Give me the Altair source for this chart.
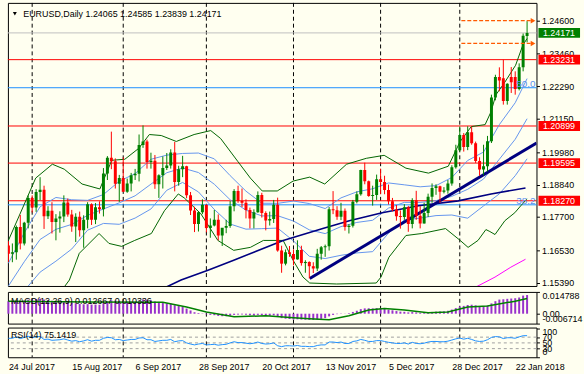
import json
import altair as alt
import pandas as pd

# ---------------- data ----------------
opens = [1.1670,1.1641,1.1646,1.1735,1.1677,1.1750,1.1837,1.1803,1.1858,1.1866,
         1.1773,1.1792,1.1752,1.1765,1.1772,1.1821,1.1779,1.1737,1.1771,1.1723,
         1.1760,1.1815,1.1760,1.1804,1.1797,1.1923,1.1978,1.1966,1.1887,1.1907,
         1.1859,1.1888,1.1917,1.1922,1.2023,1.2035,1.1963,1.1968,1.1885,1.1917,
         1.1942,1.1951,1.1997,1.1893,1.1938,1.1948,1.1846,1.1793,1.1745,1.1787,
         1.1813,1.1731,1.1740,1.1760,1.1705,1.1732,1.1738,1.1808,1.1861,1.1826,
         1.1820,1.1795,1.1765,1.1787,1.1847,1.1784,1.1758,1.1763,1.1813,1.1652,
         1.1606,1.1646,1.1640,1.1621,1.1654,1.1608,1.1612,1.1597,1.1589,1.1641,
         1.1664,1.1667,1.1797,1.1794,1.1771,1.1792,1.1735,1.1739,1.1824,1.1850,
         1.1935,1.1896,1.1844,1.1847,1.1903,1.1893,1.1865,1.1825,1.1796,1.1773,
         1.1770,1.1804,1.1745,1.1829,1.1774,1.1747,1.1784,1.1841,1.1872,1.1878,
         1.1859,1.1863,1.1888,1.1945,1.2005,1.2058,1.2016,1.2068,1.2029,1.1967,
         1.1937,1.1948,1.2036,1.2190,1.2262,1.2258,1.2178,1.2262,1.2262,1.2220,
         1.2296,1.24065]
highs = [1.1685,1.1677,1.1740,1.1777,1.1753,1.1846,1.1846,1.1868,1.1910,1.1880,
         1.1808,1.1822,1.1780,1.1790,1.1846,1.1835,1.1795,1.1783,1.1789,1.1776,
         1.1822,1.1818,1.1819,1.1825,1.1942,1.1984,1.2070,1.1976,1.1918,1.1980,
         1.1905,1.1925,1.1939,1.2060,1.2092,1.2042,1.1996,1.1988,1.1920,1.1983,
         1.1995,1.2008,1.2034,1.1950,1.1985,1.1950,1.1858,1.1806,1.1790,1.1832,
         1.1813,1.1765,1.1795,1.1779,1.1730,1.1760,1.1826,1.1868,1.1880,1.1870,
         1.1832,1.1803,1.1797,1.1860,1.1855,1.1790,1.1789,1.1830,1.1838,1.1669,
         1.1656,1.1668,1.1656,1.1688,1.1669,1.1618,1.1614,1.1611,1.1658,1.1668,
         1.1673,1.1805,1.1861,1.1808,1.1820,1.1800,1.1745,1.1830,1.1860,1.1936,
         1.1961,1.1898,1.1880,1.1919,1.1940,1.1915,1.1884,1.1837,1.1812,1.1793,
         1.1815,1.1809,1.1836,1.1862,1.1808,1.1820,1.1852,1.1888,1.1885,1.1880,
         1.1875,1.1900,1.1952,1.2024,1.2088,1.2065,1.2089,1.2088,1.2035,1.1980,
         1.2024,1.2055,1.2200,1.2270,1.2296,1.2323,1.2240,1.2297,1.2282,1.2310,
         1.2415,1.24585]
lows = [1.1612,1.1611,1.1620,1.1656,1.1670,1.1730,1.1786,1.1788,1.1829,1.1728,
        1.1763,1.1712,1.1688,1.1715,1.1752,1.1771,1.1718,1.1682,1.1701,1.1662,
        1.1730,1.1742,1.1745,1.1782,1.1772,1.1900,1.1938,1.1870,1.1823,1.1858,
        1.1855,1.1860,1.1900,1.1895,1.2013,1.1940,1.1940,1.1869,1.1837,1.1870,
        1.1935,1.1940,1.1860,1.1880,1.1910,1.1836,1.1777,1.1717,1.1719,1.1780,
        1.1716,1.1697,1.1737,1.1688,1.1668,1.1713,1.1732,1.1790,1.1820,1.1805,
        1.1765,1.1730,1.1730,1.1785,1.1768,1.1723,1.1740,1.1749,1.1648,1.1574,
        1.1600,1.1630,1.1600,1.1620,1.1599,1.1574,1.1554,1.1573,1.1580,1.1620,
        1.1630,1.1652,1.1780,1.1760,1.1759,1.1722,1.1712,1.1733,1.1818,1.1845,
        1.1885,1.1841,1.1810,1.1830,1.1850,1.1850,1.1814,1.1790,1.1757,1.1729,
        1.1760,1.1718,1.1730,1.1760,1.1730,1.1747,1.1770,1.1820,1.1848,1.1820,
        1.1853,1.1852,1.1880,1.1940,1.2001,1.2000,1.2005,1.2024,1.1960,1.1915,
        1.1917,1.1930,1.2030,1.2180,1.2212,1.2165,1.2165,1.2206,1.2200,1.2215,
        1.2282,1.23839]
closes = [1.1641,1.1646,1.1735,1.1677,1.1750,1.1837,1.1803,1.1858,1.1866,1.1773,
          1.1792,1.1752,1.1765,1.1772,1.1821,1.1779,1.1737,1.1771,1.1723,1.1760,
          1.1815,1.1760,1.1804,1.1797,1.1923,1.1978,1.1966,1.1887,1.1907,1.1859,
          1.1888,1.1917,1.1922,1.2023,1.2035,1.1963,1.1968,1.1885,1.1917,1.1942,
          1.1951,1.1997,1.1893,1.1938,1.1948,1.1846,1.1793,1.1745,1.1787,1.1813,
          1.1731,1.1740,1.1760,1.1705,1.1732,1.1738,1.1808,1.1861,1.1826,1.1820,
          1.1795,1.1765,1.1787,1.1847,1.1784,1.1758,1.1763,1.1813,1.1652,1.1606,
          1.1646,1.1640,1.1621,1.1654,1.1608,1.1612,1.1597,1.1589,1.1641,1.1664,
          1.1667,1.1797,1.1794,1.1771,1.1792,1.1735,1.1739,1.1824,1.1850,1.1935,
          1.1896,1.1844,1.1847,1.1903,1.1893,1.1865,1.1825,1.1796,1.1773,1.1770,
          1.1804,1.1745,1.1829,1.1774,1.1747,1.1784,1.1841,1.1872,1.1878,1.1859,
          1.1863,1.1888,1.1945,1.2005,1.2058,1.2016,1.2068,1.2029,1.1967,1.1937,
          1.1948,1.2036,1.2190,1.2262,1.2250,1.2178,1.2238,1.2244,1.2220,1.2296,
          1.2407,1.24171]

macd_hist = [0.0085,0.0084,0.0088,0.0086,0.0088,0.0095,0.0096,0.0100,0.0102,0.0096,
             0.0093,0.0088,0.0085,0.0082,0.0083,0.0080,0.0074,0.0071,0.0066,0.0064,
             0.0065,0.0062,0.0062,0.0061,0.0071,0.0083,0.0091,0.0089,0.0088,0.0084,
             0.0082,0.0082,0.0081,0.0089,0.0096,0.0094,0.0091,0.0083,0.0080,0.0078,
             0.0070,0.0068,0.0058,0.0052,0.0047,0.0035,0.0022,0.0010,0.0005,0.0002,
             -0.0004,-0.0008,-0.0010,-0.0015,-0.0017,-0.0017,-0.0013,-0.0008,-0.0006,-0.0005,
             -0.0007,-0.0010,-0.0011,-0.0008,-0.0010,-0.0013,-0.0014,-0.0011,-0.0020,-0.0030,
             -0.0034,-0.0036,-0.0039,-0.0038,-0.0040,-0.0041,-0.0042,-0.0042,-0.0039,-0.0035,
             -0.0030,-0.0018,-0.0008,-0.0003,0.0001,0.0001,0.0004,0.0012,0.0020,0.0031,
             0.0036,0.0037,0.0036,0.0038,0.0037,0.0033,0.0028,0.0023,0.0018,0.0014,
             0.0013,0.0009,0.0011,0.0009,0.0006,0.0006,0.0009,0.0012,0.0014,0.0015,
             0.0016,0.0020,0.0028,0.0038,0.0048,0.0053,0.0059,0.0061,0.0057,0.0052,
             0.0050,0.0055,0.0070,0.0085,0.0096,0.0098,0.0101,0.0103,0.0105,0.0110,
             0.0123,0.012667]
signal_bars = [0, 20, 39, 45, 50, 57, 65, 72, 76, 81, 86, 91, 95, 100, 106, 111, 116, 121, 128, 131]
signal_vals = [0.0084, 0.0080, 0.0078, 0.0045, 0.0012, -0.0021, -0.0014, -0.0028, -0.0034, -0.0041,
               -0.0014, 0.0025, 0.0036, 0.0025, 0.0006, 0.0012, 0.0045, 0.0052, 0.0085, 0.010336]

rsi = [66,66,71,65,69,73,69,71,72,62, 63,59,60,61,64,60,56,58,54,57,
       61,56,59,59,66,69,68,61,62,58, 60,62,62,67,68,61,61,55,57,59,
       59,62,54,57,58,50,46,43,46,48, 43,44,45,42,44,45,50,54,51,51,
       49,47,49,53,48,46,47,50,40,37, 40,40,39,41,38,38,37,37,41,43,
       43,53,53,51,53,48,48,55,57,62, 59,55,55,58,58,55,52,50,48,48,
       50,46,52,48,47,49,53,55,55,54, 54,56,60,64,67,63,66,62,57,55,
       56,61,69,72,71,65,68,68,66,71, 75,75.1419]

date_labels = ["24 Jul 2017", "15 Aug 2017", "6 Sep 2017", "28 Sep 2017", "20 Oct 2017",
               "13 Nov 2017", "5 Dec 2017", "28 Dec 2017", "22 Jan 2018"]
date_label_bars = [0, 16, 32, 48, 64, 80, 96, 112, 128]
separator_bars = [6, 29, 50, 72, 94, 114]

price_ticks = [1.24600, 1.23460, 1.22290, 1.21150, 1.19980, 1.18840, 1.17700, 1.16530, 1.15390]
red_levels = [1.23231, 1.20899, 1.19595, 1.18270]
red_texts = ["1.23231", "1.20899", "1.19595", "1.18270"]
fib_levels = [1.22244, 1.18128]
fib_texts = ["50.0", "38.2"]
last_price = 1.24171
arrow_levels = [1.24600, 1.23800]
arrow_start_bar = 114.4
arrow_end_bar = 131.9
arrow_head_bar = 132.5

# outer bands (dark green)
ub_bars = [0, 6.9, 11.1, 14.1, 18.6, 23.1, 26.1, 29.4, 32.9, 35.6, 38.6, 42.4, 46.9, 51.1, 53.6, 57.9,
           61.1, 64.1, 67.9, 71.9, 76.1, 79.9, 85.4, 90.4, 94.9, 100.4, 106.1, 111.1, 114.1, 116.9,
           120.4, 121.9, 123.1, 125.4, 128.1, 129.9, 131]
ub_prices = [1.16876, 1.19068, 1.19555, 1.19381, 1.18859, 1.18685, 1.19694, 1.19729, 1.20111, 1.20599,
             1.20564, 1.20355, 1.20599, 1.20738, 1.20459, 1.19659, 1.19068, 1.18615, 1.18615, 1.18963,
             1.19102, 1.18859, 1.19555, 1.19763, 1.19868, 1.19416, 1.19242, 1.19485, 1.20355, 1.20877,
             1.20947, 1.21399, 1.21990, 1.22443, 1.23034, 1.23730, 1.23974]
lb_bars = [0, 8, 14.1, 15.4, 17.9, 22.9, 25.4, 28.6, 31.9, 36.1, 39.4, 42.9, 44.4, 48.6, 52.9, 56.9, 61.1,
           64.4, 69.4, 71.9, 74.4, 76.1, 82.9, 92.9, 94.1, 96.1, 100.4, 104.4, 110.4, 114.1, 116.1,
           118.6, 120.6, 121.6, 122.9, 125.4, 127.9, 129.4, 131]
lb_prices = [1.13674, 1.14614, 1.15240, 1.15484, 1.16423, 1.17119, 1.16771, 1.16667, 1.16876, 1.17119,
             1.17919, 1.18511, 1.18372, 1.17815, 1.16876, 1.16528, 1.16632, 1.16876, 1.16876, 1.16180,
             1.15588, 1.15379, 1.15345, 1.15379, 1.15588, 1.16284, 1.17049, 1.17119, 1.17293, 1.16876,
             1.16632, 1.16876, 1.17258, 1.17189, 1.17084, 1.17571, 1.17850, 1.18093, 1.18337]
# inner bands and middle line (cornflower blue)
band_bars = [0, 4, 8, 12, 16, 20, 24, 28, 32, 36, 40, 44, 48, 52, 56, 60, 64, 68, 72, 76, 80, 84,
             88, 92, 96, 100, 104, 108, 112, 116, 120, 124, 128, 131]
bu_prices = [1.16075, 1.17145, 1.18059, 1.18386, 1.18306, 1.18285, 1.18490, 1.18956, 1.19224, 1.19729,
             1.19875, 1.19934, 1.19948, 1.19743, 1.19155, 1.18608, 1.18184, 1.18180, 1.18260, 1.18173,
             1.17996, 1.18372, 1.18584, 1.18692, 1.18897, 1.18831, 1.18761, 1.18803, 1.19089, 1.19687,
             1.19983, 1.20947, 1.21716, 1.22565]
mid_prices = [1.15275, 1.16127, 1.16910, 1.17267, 1.17441, 1.17759, 1.17982, 1.18198, 1.18445, 1.18855,
              1.19256, 1.19423, 1.19262, 1.18852, 1.18306, 1.17940, 1.17738, 1.17745, 1.17558, 1.17248,
              1.17116, 1.17363, 1.17509, 1.17585, 1.18013, 1.18215, 1.18212, 1.18274, 1.18427, 1.18674,
              1.19036, 1.19732, 1.20432, 1.21155]
bl_prices = [1.14475, 1.15110, 1.15762, 1.16148, 1.16576, 1.17237, 1.17474, 1.17443, 1.17662, 1.17982,
             1.18640, 1.18915, 1.18581, 1.17965, 1.17453, 1.17272, 1.17290, 1.17310, 1.16858, 1.16319,
             1.16239, 1.16354, 1.16437, 1.16482, 1.17133, 1.17596, 1.17662, 1.17749, 1.17770, 1.17658,
             1.18090, 1.18514, 1.19151, 1.19746]
ma_bars = [39.9, 43.6, 50.4, 56.9, 69.4, 79.4, 86.1, 94.4, 103.6, 113.6, 121.9, 130.6]
ma_prices = [1.15240, 1.15484, 1.15832, 1.16180, 1.16876, 1.17293, 1.17571, 1.17850, 1.18093, 1.18267,
             1.18511, 1.18720]
ma200_bars = [118.1, 122.9, 126.9, 130.6]
ma200_prices = [1.15240, 1.15588, 1.15936, 1.16215]
trend_bars = [76.1, 133.4]
trend_prices = [1.1554, 1.2030]

# ---------------- layout constants ----------------
W = 534
H_MAIN, H_MACD, H_RSI = 286, 32, 30
FONT = "Liberation Sans"
BG = "#FFFFF0"
X_DOM = [-0.125, 133.375]
P_DOM = [1.15275, 1.25226]
MACD_DOM = [-0.006714, 0.014788]
RSI_DOM = [0, 103.4]

xs = alt.Scale(domain=X_DOM, nice=False, zero=False)
ys = alt.Scale(domain=P_DOM, nice=False, zero=False)
ms = alt.Scale(domain=MACD_DOM, nice=False, zero=False)
rs = alt.Scale(domain=RSI_DOM, nice=False, zero=False)

main_axis = alt.Axis(orient="right", values=price_ticks, format=".5f", title=None,
                     labelFont=FONT, labelFontSize=9, labelColor="black", tickSize=3,
                     tickColor="black", labelPadding=2, domain=False, grid=False,
                     labelOverlap=False, labelBound=False, labelFlush=False)

n = len(closes)
cdf = pd.DataFrame({"i": list(range(n)), "o": opens, "h": highs, "l": lows, "c": closes})
cdf["dir"] = ["up" if c >= o else "down" for o, c in zip(cdf.o, cdf.c)]
cdf["lo"] = cdf[["o", "c"]].min(axis=1)
cdf["hi"] = cdf[["o", "c"]].max(axis=1)
minb = 0.00035
cdf["hi"] = [max(h, l + minb) for h, l in zip(cdf.hi, cdf.lo)]
cdf["x0"] = cdf.i - 0.375
cdf["x1"] = cdf.i + 0.375

col_scale = alt.Scale(domain=["up", "down"], range=["#008000", "#FF0000"])

sep_df = pd.DataFrame({"i": separator_bars})

def sep_layer(axis=None):
    return alt.Chart(sep_df).mark_rule(color="black", strokeDash=[4, 3], strokeWidth=1).encode(
        x=alt.X("i:Q", scale=xs, axis=axis))

lvl_df = pd.DataFrame({"p": red_levels, "t": red_texts})
fib_df = pd.DataFrame({"p": fib_levels, "t": fib_texts})
last_df = pd.DataFrame({"p": [last_price], "t": [f"{last_price:.5f}"]})

red_lines = alt.Chart(lvl_df).mark_rule(color="#FF0000", strokeWidth=1).encode(
    y=alt.Y("p:Q", scale=ys, axis=main_axis))
fib_lines = alt.Chart(fib_df).mark_rule(color="#1E90FF", strokeWidth=1).encode(
    y=alt.Y("p:Q", scale=ys, axis=main_axis))
last_line = alt.Chart(last_df).mark_rule(color="#C0C0C0", strokeWidth=1).encode(
    y=alt.Y("p:Q", scale=ys, axis=main_axis))

def line_layer(bars, prices, color, width):
    df = pd.DataFrame({"i": bars, "p": prices})
    return alt.Chart(df).mark_line(color=color, strokeWidth=width, clip=True).encode(
        x=alt.X("i:Q", scale=xs, axis=None), y=alt.Y("p:Q", scale=ys, axis=main_axis))

ub = line_layer(ub_bars, ub_prices, "#006400", 1)
lb = line_layer(lb_bars, lb_prices, "#006400", 1)
bu = line_layer(band_bars, bu_prices, "#6495ED", 1)
mid = line_layer(band_bars, mid_prices, "#6495ED", 1)
bl = line_layer(band_bars, bl_prices, "#6495ED", 1)
ma = line_layer(ma_bars, ma_prices, "#000080", 1.6)
ma200 = line_layer(ma200_bars, ma200_prices, "#FF00FF", 1)
trend = line_layer(trend_bars, trend_prices, "#000080", 3)

wicks = alt.Chart(cdf).mark_rule(strokeWidth=1, clip=True).encode(
    x=alt.X("i:Q", scale=xs, axis=None),
    y=alt.Y("l:Q", scale=ys, axis=main_axis), y2="h:Q",
    color=alt.Color("dir:N", scale=col_scale, legend=None))
bodies = alt.Chart(cdf).mark_rect(clip=True).encode(
    x=alt.X("x0:Q", scale=xs, axis=None), x2="x1:Q",
    y=alt.Y("lo:Q", scale=ys, axis=main_axis), y2="hi:Q",
    color=alt.Color("dir:N", scale=col_scale, legend=None))

arr_df = pd.DataFrame({"p": arrow_levels, "x0": arrow_start_bar, "x1": arrow_end_bar, "xa": arrow_head_bar})
arr_lines = alt.Chart(arr_df).mark_rule(color="#FF5A00", strokeDash=[4, 2], strokeWidth=1.2).encode(
    x=alt.X("x0:Q", scale=xs, axis=None), x2="x1:Q", y=alt.Y("p:Q", scale=ys, axis=main_axis))
arr_heads = alt.Chart(arr_df).mark_point(shape="triangle-right", filled=True, size=30, opacity=1,
                                          color="#FF5A00").encode(
    x=alt.X("xa:Q", scale=xs, axis=None), y=alt.Y("p:Q", scale=ys, axis=main_axis))

fib_text = alt.Chart(fib_df).mark_text(align="right", baseline="bottom", font=FONT, fontSize=10,
                                       color="#5B8FEF", dy=1).encode(
    x=alt.value(533), y=alt.Y("p:Q", scale=ys, axis=main_axis), text="t:N")

title_df = pd.DataFrame({"t": ["EURUSD,Daily  1.24065 1.24585 1.23839 1.24171"]})
title_txt = alt.Chart(title_df).mark_text(align="left", baseline="middle", font=FONT, fontSize=9,
                                          color="black").encode(
    x=alt.value(15.5), y=alt.value(11), text="t:N")
title_tri = alt.Chart(title_df).mark_point(shape="triangle-down", filled=True, size=16, opacity=1,
                                           color="black").encode(x=alt.value(7), y=alt.value(11))

box_df = pd.concat([last_df.assign(k="last"), lvl_df.assign(k="lvl")], ignore_index=True)
boxes = alt.Chart(box_df).mark_tick(orient="horizontal", size=42, thickness=10, opacity=1).encode(
    x=alt.value(557), y=alt.Y("p:Q", scale=ys, axis=main_axis),
    color=alt.Color("k:N", scale=alt.Scale(domain=["last", "lvl"], range=["#000000", "#FF0000"]), legend=None))
box_txt = alt.Chart(box_df).mark_text(align="left", baseline="middle", font=FONT, fontSize=9,
                                      color="white").encode(
    x=alt.value(540.5), y=alt.Y("p:Q", scale=ys, axis=main_axis), text="t:N")

main = alt.layer(sep_layer(), last_line, red_lines, fib_lines, bu, mid, bl, ub, lb, ma, ma200, trend,
                 wicks, bodies, arr_lines, arr_heads, fib_text, title_tri, title_txt,
                 boxes, box_txt).properties(width=W, height=H_MAIN)

# MACD panel
mdf = pd.DataFrame({"i": list(range(n)), "v": macd_hist, "z": 0.0})
sdf = pd.DataFrame({"i": signal_bars, "v": signal_vals})
macd_axis = alt.Axis(orient="right", values=[0.014788, 0.0, -0.006714], labels=False, title=None,
                     tickSize=3, tickColor="black", domain=False, grid=False)
hist = alt.Chart(mdf).mark_rule(color="#9932CC", strokeWidth=2).encode(
    x=alt.X("i:Q", scale=xs, axis=None), y=alt.Y("v:Q", scale=ms, axis=macd_axis), y2="z:Q")
sig = alt.Chart(sdf).mark_line(color="#008000", strokeWidth=1.5).encode(
    x=alt.X("i:Q", scale=xs, axis=None), y=alt.Y("v:Q", scale=ms, axis=macd_axis))
macd_lab_df = pd.DataFrame({"v": [0.014788, 0.0, -0.006714], "t": ["0.014788", "0.00", "-0.006714"],
                            "b": ["top", "middle", "bottom"]})
macd_labs = []
for b in ["top", "middle", "bottom"]:
    macd_labs.append(alt.Chart(macd_lab_df[macd_lab_df.b == b]).mark_text(
        align="left", baseline=b, font=FONT, fontSize=9, color="black").encode(
        x=alt.value(W + 6), y=alt.Y("v:Q", scale=ms, axis=macd_axis), text="t:N"))
macd_name = alt.Chart(pd.DataFrame({"t": ["MACD(12,26,9) 0.012667 0.010336"]})).mark_text(
    align="left", baseline="middle", font=FONT, fontSize=9, color="black").encode(
    x=alt.value(3), y=alt.value(9), text="t:N")
macd = alt.layer(sep_layer(), hist, sig, macd_name, *macd_labs).properties(width=W, height=H_MACD)

# RSI panel
date_expr = json.dumps(date_labels) + "[round(datum.value / 16)]"
x_axis = alt.Axis(orient="bottom", values=date_label_bars, labelExpr=date_expr, title=None,
                  labelFont=FONT, labelFontSize=9, labelColor="black", labelAlign="left",
                  labelBaseline="top", labelPadding=5, tickSize=0, domain=False, grid=False,
                  labelOverlap=False, labelBound=False, labelFlush=False)
rsi_axis = alt.Axis(orient="right", values=[100, 70, 50, 30, 0], labels=False, title=None,
                    tickSize=3, tickColor="black", domain=False, grid=False)
rdf = pd.DataFrame({"i": list(range(n)), "v": rsi})
rlev = pd.DataFrame({"v": [70, 50, 30]})
rsi_levels = alt.Chart(rlev).mark_rule(color="#A0A0A0", strokeDash=[3, 3], strokeWidth=1).encode(
    y=alt.Y("v:Q", scale=rs, axis=rsi_axis))
rsi_line = alt.Chart(rdf).mark_line(color="#1E90FF", strokeWidth=1).encode(
    x=alt.X("i:Q", scale=xs, axis=x_axis), y=alt.Y("v:Q", scale=rs, axis=rsi_axis))
rsi_lab_df = pd.DataFrame({"v": [100, 70, 50, 30, 0], "t": ["100", "70", "50", "30", "0"],
                           "b": ["top", "middle", "middle", "middle", "bottom"]})
rsi_labs = []
for b in ["top", "middle", "bottom"]:
    rsi_labs.append(alt.Chart(rsi_lab_df[rsi_lab_df.b == b]).mark_text(
        align="left", baseline=b, font=FONT, fontSize=9, color="black").encode(
        x=alt.value(W + 6), y=alt.Y("v:Q", scale=rs, axis=rsi_axis), text="t:N"))
rsi_name = alt.Chart(pd.DataFrame({"t": ["RSI(14) 75.1419"]})).mark_text(
    align="left", baseline="middle", font=FONT, fontSize=9, color="black").encode(
    x=alt.value(3), y=alt.value(8), text="t:N")
rsi_panel = alt.layer(sep_layer(x_axis), rsi_levels, rsi_line,
                      rsi_name, *rsi_labs).properties(width=W, height=H_RSI)

chart = alt.vconcat(main, macd, rsi_panel, spacing=2).configure(
    background=BG, padding={"left": 5, "top": 0, "right": 0, "bottom": 0}
).configure_view(stroke="black", strokeWidth=1, fill=BG)

chart.save("out.html", embed_options={"renderer": "svg", "actions": False})
